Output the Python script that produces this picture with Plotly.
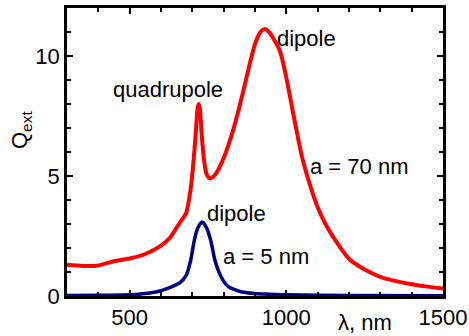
import plotly.graph_objects as go

# a = 70 nm (red)
lam_70 = [300, 350, 400, 430, 450, 500, 550, 600, 630, 650, 665, 680, 695, 705, 712, 717, 721,
          725, 730, 737, 745, 755, 765, 780, 800, 830, 860, 880, 900, 915, 930, 945, 960, 980,
          1000, 1025, 1050, 1075, 1100, 1125, 1150, 1200, 1250, 1300, 1350, 1400, 1450, 1500]
q_70 = [1.30, 1.25, 1.27, 1.38, 1.45, 1.56, 1.75, 2.10, 2.45, 2.85, 3.15, 3.45, 4.5, 5.8, 7.0, 7.85, 8.0,
        7.7, 6.7, 5.7, 5.1, 4.9, 4.95, 5.2, 5.75, 6.9, 8.4, 9.5, 10.5, 10.95, 11.12, 11.0, 10.7, 10.2,
        9.1, 7.4, 5.8, 4.65, 3.7, 3.0, 2.45, 1.55, 1.1, 0.8, 0.62, 0.49, 0.39, 0.31]

# a = 5 nm (blue)
lam_5 = [300, 400, 500, 550, 600, 640, 660, 680, 695, 706, 718, 731, 745, 759, 772, 791, 812,
         850, 900, 1000, 1200, 1500]
q_5 = [0.02, 0.03, 0.05, 0.10, 0.22, 0.42, 0.55, 0.85, 1.5, 2.3, 2.85, 3.08, 2.85, 2.3, 1.5, 0.82, 0.42,
       0.2, 0.1, 0.05, 0.02, 0.01]

x_ticks = [500, 1000, 1500]
y_ticks = [0, 5, 10]

FONT = "Liberation Sans, Arial, sans-serif"

fig = go.Figure()
fig.add_trace(go.Scatter(x=lam_70, y=q_70, mode="lines",
                         line=dict(color="#FF0000", width=4, shape="spline", smoothing=0.6)))
fig.add_trace(go.Scatter(x=lam_5, y=q_5, mode="lines",
                         line=dict(color="#000080", width=3.5, shape="spline", smoothing=0.6)))

axis_common = dict(showline=True, linecolor="black", linewidth=2.5, mirror="allticks",
                   ticks="inside", tickcolor="black", tickwidth=2, ticklen=6,
                   showgrid=False, zeroline=False, automargin=False,
                   tickfont=dict(family=FONT, size=22, color="black"))

fig.update_xaxes(range=[300, 1500], tickvals=x_ticks, ticktext=[str(v) for v in x_ticks],
                 minor=dict(dtick=100, tick0=0, ticks="inside", ticklen=4, tickwidth=2, tickcolor="black"),
                 **axis_common)
fig.update_yaxes(range=[0, 12], tickvals=y_ticks, ticktext=[str(v) for v in y_ticks],
                 minor=dict(dtick=1, tick0=0, ticks="inside", ticklen=4, tickwidth=2, tickcolor="black"),
                 **axis_common)

ann_font = dict(family=FONT, size=22, color="black")
annotations = [
    dict(x=621, y=8.6, text="quadrupole", xanchor="center", yanchor="middle"),
    dict(x=1064, y=10.75, text="dipole", xanchor="center", yanchor="middle"),
    dict(x=1070, y=5.4, text="a = 70 nm", xanchor="left", yanchor="middle"),
    dict(x=840, y=3.43, text="dipole", xanchor="center", yanchor="middle"),
    dict(x=791, y=1.63, text="a = 5 nm", xanchor="left", yanchor="middle"),
]
for a in annotations:
    fig.add_annotation(xref="x", yref="y", showarrow=False, font=ann_font, **a)

# axis titles
fig.add_annotation(xref="paper", yref="paper", x=(365 - 67) / 376, y=(296 - 322) / 288,
                   text="λ, nm", showarrow=False, xanchor="center", yanchor="middle", font=ann_font)
fig.add_annotation(xref="paper", yref="paper", x=(21 - 67) / 376, y=(296 - 130) / 288,
                   text="Q<sub>ext</sub>", showarrow=False, textangle=-90,
                   xanchor="center", yanchor="middle", font=ann_font)

fig.update_layout(width=469, height=336, margin=dict(l=67, r=26, t=8, b=40),
                  paper_bgcolor="white", plot_bgcolor="white", showlegend=False)

fig.write_html("out.html", config={"displayModeBar": False},
               post_script="document.body.style.margin='0px';document.body.style.overflow='hidden';")
